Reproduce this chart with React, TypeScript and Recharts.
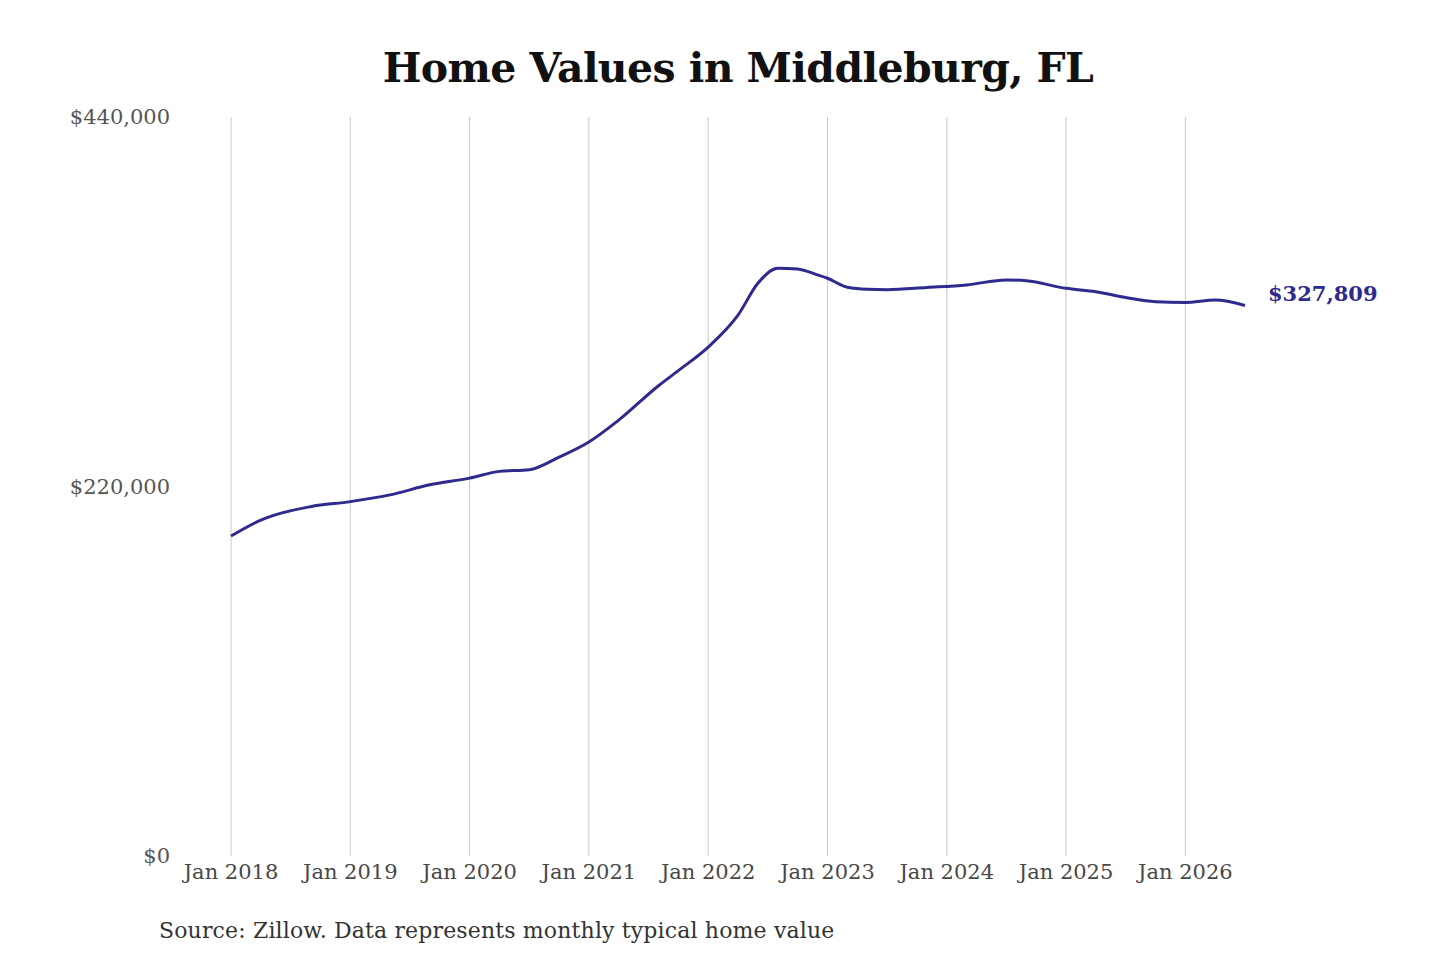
import React from 'react';
import { LineChart, Line, XAxis, YAxis, ReferenceLine } from 'recharts';

// month index counted from Jan 2018
const months = [0, 3, 8, 12, 16, 20, 24, 27, 30, 33, 36, 39, 43, 45, 48, 51, 53, 55, 57, 59, 60, 62, 64, 66, 70, 74, 78, 80, 84, 87, 90, 93, 96, 99, 102];
const values = [190500, 200000, 208000, 211000, 215000, 221000, 225000, 229000, 230000, 237500, 246500, 259500, 280000, 289000, 303000, 322000, 341000, 350000, 349500, 346000, 344000, 338600, 337400, 337200, 338500, 340000, 343000, 342500, 338000, 336000, 332500, 330000, 329600, 331000, 327809];
const xTicks = [0, 12, 24, 36, 48, 60, 72, 84, 96];
const xTickLabels = ['Jan 2018', 'Jan 2019', 'Jan 2020', 'Jan 2021', 'Jan 2022', 'Jan 2023', 'Jan 2024', 'Jan 2025', 'Jan 2026'];
const yTicks = [0, 220000, 440000];
const endLabel = '$327,809';

const data = months.map((m, i) => ({ m, v: values[i] }));

const FONT = '"DejaVu Serif", serif';
const LINE = '#2e2a8e';

const fmtMoney = (v: number) => '$' + v.toLocaleString('en-US');

const EndLabel = (props: any) => {
  const { x, y, index } = props;
  if (index !== data.length - 1) return null;
  return (
    <text x={x + 23} y={y} dy={-4} fill={LINE} fontFamily={FONT} fontWeight="bold" fontSize={21}>
      {endLabel}
    </text>
  );
};

export default function App() {
  return (
    <div style={{ position: 'absolute', left: 0, top: 0, width: 1440, height: 960, background: '#fff' }}>
      <div
        style={{
          position: 'absolute',
          left: 0,
          width: 1440,
          top: 42,
          textAlign: 'center',
          fontFamily: FONT,
          fontWeight: 'bold',
          fontSize: 41,
          color: '#111',
          lineHeight: '52px',
          paddingLeft: 36,
          boxSizing: 'border-box',
          letterSpacing: -0.6,
        }}
      >
        Home Values in Middleburg, FL
      </div>
      <LineChart width={1440} height={960} data={data} margin={{ top: 117, right: 195, bottom: 74, left: 0 }}>
        <XAxis
          dataKey="m"
          type="number"
          domain={[0, 102]}
          ticks={xTicks}
          height={30}
          axisLine={false}
          tickLine={false}
          tickSize={0}
          tickMargin={8}
          interval={0}
          tick={{ fontFamily: FONT, fontSize: 21, fill: '#484848' }}
          tickFormatter={(v: number) => xTickLabels[xTicks.indexOf(v)]}
        />
        <YAxis
          type="number"
          domain={[0, 440000]}
          ticks={yTicks}
          width={231}
          axisLine={false}
          tickLine={false}
          tickSize={0}
          tickMargin={61}
          tick={{ fontFamily: FONT, fontSize: 21, fill: '#555' }}
          tickFormatter={fmtMoney}
        />
        {xTicks.map((t) => (
          <ReferenceLine key={t} x={t} stroke="#c8c8c8" strokeWidth={1} />
        ))}
        <Line
          type="monotone"
          dataKey="v"
          stroke={LINE}
          strokeWidth={3}
          dot={false}
          isAnimationActive={false}
          label={<EndLabel />}
        />
      </LineChart>
      <div
        style={{
          position: 'absolute',
          left: 159,
          top: 916,
          fontFamily: FONT,
          fontSize: 22,
          color: '#333',
          lineHeight: '30px',
          whiteSpace: 'nowrap',
          letterSpacing: 0.15,
        }}
      >
        Source: Zillow. Data represents monthly typical home value
      </div>
    </div>
  );
}
